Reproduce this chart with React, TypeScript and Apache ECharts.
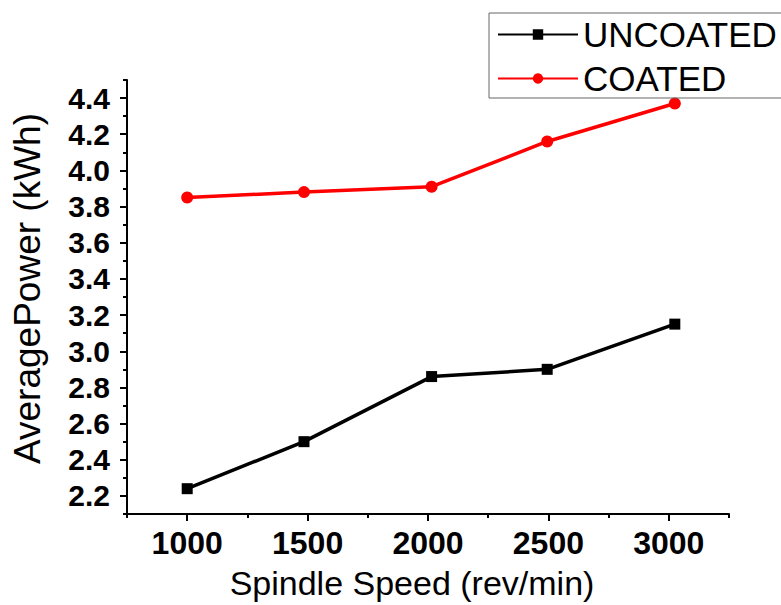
import React, { useEffect, useRef } from "react";
import * as echarts from "echarts";

const speeds = [1000, 1485, 2015, 2495, 3025];
const uncoated = [2.24, 2.5, 2.86, 2.9, 3.15];
const coated = [3.85, 3.88, 3.91, 4.16, 4.37];
const xTickLabels = [1000, 1500, 2000, 2500, 3000];
const yTickLabels = [2.2, 2.4, 2.6, 2.8, 3.0, 3.2, 3.4, 3.6, 3.8, 4.0, 4.2, 4.4];
const seriesNames = ["UNCOATED", "COATED"];

const FONT = "'Liberation Sans', Arial, sans-serif";

export default function App() {
  const ref = useRef<HTMLDivElement>(null);
  useEffect(() => {
    if (!ref.current) return;
    const chart = echarts.init(ref.current, undefined, { renderer: "svg" });
    const axisLine = { show: true, lineStyle: { color: "#000", width: 2 } };
    chart.setOption({
      animation: false,
      backgroundColor: "#fff",
      textStyle: { fontFamily: FONT },
      grid: { left: 127, right: 52, top: 80, bottom: 86 },
      legend: {
        orient: "vertical",
        left: 489,
        top: 13,
        padding: [4, 24, 2, 8],
        borderColor: "#666",
        borderWidth: 1,
        itemWidth: 80,
        itemHeight: 13,
        itemGap: 9,
        data: seriesNames,
        textStyle: { fontSize: 35, color: "#000", fontFamily: FONT, lineHeight: 35 },
      },
      xAxis: [
        {
          type: "value",
          min: 750,
          max: 3250,
          name: "Spindle Speed (rev/min)",
          nameLocation: "middle",
          nameGap: 52,
          nameTextStyle: { fontSize: 34, color: "#000", fontFamily: FONT, padding: [0, 32, 0, 0] },
          axisLine,
          splitLine: { show: false },
          axisTick: {
            show: true,
            inside: false,
            length: 7,
            lineStyle: { width: 2, color: "#000" },
            customValues: xTickLabels,
          },
          axisLabel: {
            customValues: xTickLabels,
            margin: 13,
            fontSize: 32,
            fontWeight: "bold",
            color: "#000",
            fontFamily: FONT,
            formatter: (v: number) => String(v),
          },
        },
        {
          type: "value",
          min: 750,
          max: 3250,
          interval: 500,
          position: "bottom",
          offset: 0,
          axisLine: { show: false },
          splitLine: { show: false },
          axisLabel: { show: false },
          axisTick: { show: true, inside: false, length: 4, lineStyle: { width: 2, color: "#000" } },
        },
      ],
      yAxis: [
        {
          type: "value",
          min: 2.1,
          max: 4.5,
          name: "AveragePower (kWh)",
          nameLocation: "middle",
          nameGap: 81,
          nameTextStyle: { fontSize: 37, color: "#000", fontFamily: FONT, padding: [0, 0, 0, 17] },
          axisLine,
          splitLine: { show: false },
          axisTick: {
            show: true,
            inside: false,
            length: 7,
            lineStyle: { width: 2, color: "#000" },
            customValues: yTickLabels,
          },
          axisLabel: {
            customValues: yTickLabels,
            margin: 17,
            fontSize: 30,
            fontWeight: "bold",
            color: "#000",
            fontFamily: FONT,
            formatter: (v: number) => v.toFixed(1),
          },
        },
        {
          type: "value",
          min: 2.1,
          max: 4.5,
          interval: 0.2,
          position: "left",
          offset: 0,
          axisLine: { show: false },
          splitLine: { show: false },
          axisLabel: { show: false },
          axisTick: { show: true, inside: false, length: 4, lineStyle: { width: 2, color: "#000" } },
        },
      ],
      series: [
        {
          name: seriesNames[0],
          type: "line",
          xAxisIndex: 0,
          yAxisIndex: 0,
          data: speeds.map((s, i) => [s, uncoated[i]]),
          symbol: "rect",
          symbolSize: 11,
          itemStyle: { color: "#000" },
          lineStyle: { color: "#000", width: 3.5 },
        },
        {
          name: seriesNames[1],
          type: "line",
          xAxisIndex: 0,
          yAxisIndex: 0,
          data: speeds.map((s, i) => [s, coated[i]]),
          symbol: "circle",
          symbolSize: 12,
          itemStyle: { color: "#ff0000" },
          lineStyle: { color: "#ff0000", width: 3.5 },
        },
      ],
    });
    return () => chart.dispose();
  }, []);
  return (
    <div
      ref={ref}
      style={{ position: "absolute", left: 0, top: 0, width: 781, height: 605, background: "#fff" }}
    />
  );
}
